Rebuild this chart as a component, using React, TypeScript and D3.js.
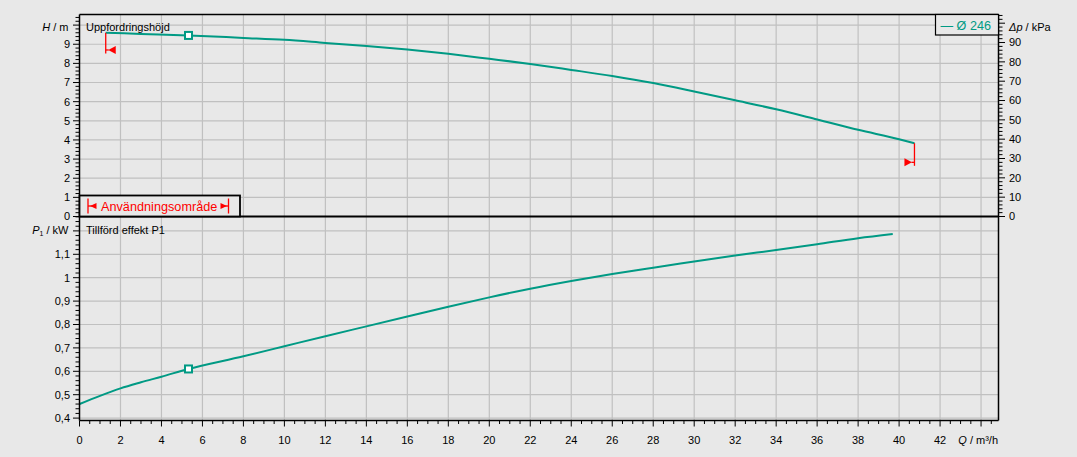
import React from "react";
import * as d3 from "d3";

// ---- data ----
const headQ = [1.28, 3, 5.32, 8, 10, 12, 14, 16, 18, 20, 22, 24, 26, 28, 30, 32, 34, 36, 38, 40, 40.75];
const headH = [9.6, 9.54, 9.46, 9.33, 9.23, 9.07, 8.91, 8.72, 8.5, 8.24, 7.97, 7.66, 7.34, 6.97, 6.53, 6.07, 5.6, 5.07, 4.53, 4.04, 3.83];
const powerQ = [0, 1, 2, 3, 4, 5.32, 8, 10, 12, 14, 16, 18, 20, 22, 24, 26, 28, 30, 32, 34, 36, 38, 39.69];
const powerP = [0.46, 0.495, 0.527, 0.553, 0.577, 0.61, 0.664, 0.707, 0.75, 0.792, 0.834, 0.876, 0.916, 0.953, 0.986, 1.016, 1.043, 1.069, 1.095, 1.118, 1.143, 1.169, 1.187];
const dutyQ = 5.32;
const dutyH = 9.46;
const dutyP = 0.61;
const rangeMinQ = 1.28;
const rangeMaxQ = 40.75;
const rangeMinMarkerH = 8.7;
const rangeMaxMarkerH = 2.83;
const qTicks = d3.range(0, 44.01, 2);
const qLabels = d3.range(0, 42.01, 2);
const hTicks = d3.range(0, 10.01, 1);
const hLabels = d3.range(0, 9.01, 1);
const pTicks = [0.4, 0.5, 0.6, 0.7, 0.8, 0.9, 1.0, 1.1, 1.2];
const pLabels = [0.4, 0.5, 0.6, 0.7, 0.8, 0.9, 1.0, 1.1];
const dpLabels = [0, 10, 20, 30, 40, 50, 60, 70, 80, 90];
const legendLabel = "Ø 246";

const BG = "#e8e8e8";
const GRID = "#c0c0c0";
const TEAL = "#009a84";
const RED = "#ff0000";
const FONT = "'Liberation Sans', Arial, sans-serif";

const L = 79.5, R = 998.5, T = 14.5, MID = 216.5, B = 420.5;

export default function App() {
  const x = d3.scaleLinear().domain([0, (R - L) / 20.49]).range([L, R]);
  const yH = d3.scaleLinear().domain([0, (MID - T) / 19.14]).range([MID, T]);
  const yDp = d3.scaleLinear().domain([0, (MID - T) / 1.933]).range([MID, T]);
  const yP = d3.scaleLinear().domain([0.4 - (B - 418.1) / 234, 0.4 + (418.1 - MID) / 234]).range([B, MID]);

  const headLine = d3.line<number>().x((_, i) => x(headQ[i])).y((d) => yH(d)).curve(d3.curveMonotoneX);
  const powerLine = d3.line<number>().x((_, i) => x(powerQ[i])).y((d) => yP(d)).curve(d3.curveMonotoneX);

  const minorQ = d3.range(0, 44.6, 0.5);
  const minorH = d3.range(0, 10.5, 0.2);
  const minorP = d3.range(0.4, 1.261, 0.02);
  const minorDp = d3.range(0, 104.1, 2);
  const fmtP = (v: number) => (Math.abs(v - Math.round(v)) < 1e-9 ? String(Math.round(v)) : d3.format(".1f")(v).replace(".", ","));

  const xs0 = x(rangeMinQ);
  const xs1 = x(rangeMaxQ);
  const yMinTop = yH(headH[0]);
  const yMinMk = yH(rangeMinMarkerH);
  const yMaxTop = yH(headH[headH.length - 1]);
  const yMaxMk = yH(rangeMaxMarkerH);

  return (
    <svg width={1077} height={457} style={{ position: "absolute", left: 0, top: 0, background: BG }} fontFamily={FONT}>
      <rect x={0} y={0} width={1077} height={457} fill={BG} />
      {/* grid */}
      {qTicks.filter((q) => q > 0).map((q) => (
        <line key={"vg" + q} x1={x(q)} x2={x(q)} y1={T} y2={B} stroke={GRID} strokeWidth={1.2} />
      ))}
      {hTicks.filter((h) => h > 0).map((h) => (
        <line key={"hg" + h} x1={L} x2={R} y1={yH(h)} y2={yH(h)} stroke={GRID} strokeWidth={1.2} />
      ))}
      {pTicks.map((p) => (
        <line key={"pg" + p} x1={L} x2={R} y1={yP(p)} y2={yP(p)} stroke={GRID} strokeWidth={1.2} />
      ))}

      {/* curves */}
      <path d={headLine(headH) || ""} fill="none" stroke={TEAL} strokeWidth={2} />
      <path d={powerLine(powerP) || ""} fill="none" stroke={TEAL} strokeWidth={2} />
      <rect x={x(dutyQ) - 3.5} y={yH(dutyH) - 3.5} width={7} height={7} fill="#fff" stroke={TEAL} strokeWidth={2} />
      <rect x={x(dutyQ) - 3.5} y={yP(dutyP) - 3.5} width={7} height={7} fill="#fff" stroke={TEAL} strokeWidth={2} />

      {/* range markers */}
      <line x1={xs0} x2={xs0} y1={yMinTop} y2={yMinMk + 3.5} stroke={RED} strokeWidth={1.3} />
      <line x1={xs0} x2={xs0 + 3} y1={yMinMk} y2={yMinMk} stroke={RED} strokeWidth={1.3} />
      <path d={`M${xs0 + 2.5},${yMinMk} L${xs0 + 10},${yMinMk - 4} L${xs0 + 10},${yMinMk + 4} Z`} fill={RED} />
      <line x1={xs1} x2={xs1} y1={yMaxTop} y2={yMaxMk + 3.5} stroke={RED} strokeWidth={1.3} />
      <line x1={xs1 - 3} x2={xs1} y1={yMaxMk} y2={yMaxMk} stroke={RED} strokeWidth={1.3} />
      <path d={`M${xs1 - 2.5},${yMaxMk} L${xs1 - 10},${yMaxMk - 4} L${xs1 - 10},${yMaxMk + 4} Z`} fill={RED} />

      {/* frame */}
      <line x1={L} x2={R} y1={T} y2={T} stroke="#000" strokeWidth={1.5} />
      <line x1={L} x2={R} y1={B} y2={B} stroke="#000" strokeWidth={1.5} />
      <line x1={L} x2={L} y1={T} y2={B} stroke="#000" strokeWidth={1.5} />
      <line x1={R} x2={R} y1={T} y2={B} stroke="#000" strokeWidth={1.5} />
      <line x1={L} x2={R} y1={MID} y2={MID} stroke="#000" strokeWidth={2} />

      {/* bottom x axis */}
      {minorQ.map((q) => (
        <line key={"qt" + q} x1={x(q)} x2={x(q)} y1={B} y2={B + (q % 2 === 0 ? 6 : 3.5)} stroke="#000" strokeWidth={1} />
      ))}
      {qLabels.map((q) => (
        <text key={"ql" + q} x={x(q)} y={444} fontSize={11} textAnchor="middle" fill="#000">{q}</text>
      ))}
      <text x={998} y={444} fontSize={11} textAnchor="end" fill="#000"><tspan fontStyle="italic">Q</tspan> / m³/h</text>

      {/* left H axis */}
      {minorH.map((h) => {
        const major = Math.abs(h - Math.round(h)) < 1e-6;
        return <line key={"ht" + h} x1={L - (major ? 6.5 : 4)} x2={L} y1={yH(h)} y2={yH(h)} stroke="#000" strokeWidth={1} />;
      })}
      {hLabels.map((h) => (
        <text key={"hl" + h} x={70} y={yH(h)} dy="0.36em" fontSize={11} textAnchor="end" fill="#000">{h}</text>
      ))}
      <text x={68.5} y={31} fontSize={11} textAnchor="end" fill="#000"><tspan fontStyle="italic">H</tspan> / m</text>
      <text x={86} y={31} fontSize={11} fill="#000">Uppfordringshöjd</text>

      {/* left P axis */}
      {minorP.map((p) => {
        const major = Math.abs(p * 10 - Math.round(p * 10)) < 1e-6;
        return <line key={"pt" + p} x1={L - (major ? 6.5 : 4)} x2={L} y1={yP(p)} y2={yP(p)} stroke="#000" strokeWidth={1} />;
      })}
      {pLabels.map((p) => (
        <text key={"pl" + p} x={70} y={yP(p)} dy="0.36em" fontSize={11} textAnchor="end" fill="#000">{fmtP(p)}</text>
      ))}
      <text x={68.5} y={234} fontSize={11} textAnchor="end" fill="#000">
        <tspan fontStyle="italic">P</tspan><tspan fontSize={7} dy={2}>1</tspan><tspan dy={-2}> / kW</tspan>
      </text>
      <text x={86} y={234} fontSize={11} fill="#000">Tillförd effekt P1</text>

      {/* right dp axis */}
      {minorDp.map((v) => (
        <line key={"dt" + v} x1={R} x2={R + (v % 10 === 0 ? 6.5 : 4)} y1={yDp(v)} y2={yDp(v)} stroke="#000" strokeWidth={1} />
      ))}
      {dpLabels.map((v) => (
        <text key={"dl" + v} x={1009} y={yDp(v)} dy="0.36em" fontSize={11} fill="#000">{v}</text>
      ))}
      <text x={1009} y={31} fontSize={11} fill="#000"><tspan fontStyle="italic">Δp</tspan> / kPa</text>

      {/* legend */}
      <rect x={935.5} y={T} width={R - 935.5} height={20.5} fill={BG} stroke="#000" strokeWidth={1.2} />
      <text x={940.5} y={30} fontSize={12.6} fill={TEAL}>— {legendLabel}</text>

      {/* operating range box */}
      <rect x={L} y={195.5} width={240 - L} height={MID - 195.5} fill={BG} stroke="#000" strokeWidth={1.8} />
      <line x1={88} x2={88} y1={198.5} y2={213.5} stroke={RED} strokeWidth={1.3} />
      <line x1={88} x2={92} y1={206} y2={206} stroke={RED} strokeWidth={1.3} />
      <path d="M90,206 L96.5,203 L96.5,209 Z" fill={RED} />
      <text x={101} y={210.6} fontSize={12.7} fill={RED}>Användningsområde</text>
      <line x1={228.5} x2={228.5} y1={198.5} y2={213.5} stroke={RED} strokeWidth={1.3} />
      <line x1={224.5} x2={228.5} y1={206} y2={206} stroke={RED} strokeWidth={1.3} />
      <path d="M227,206 L220.5,203 L220.5,209 Z" fill={RED} />
    </svg>
  );
}
